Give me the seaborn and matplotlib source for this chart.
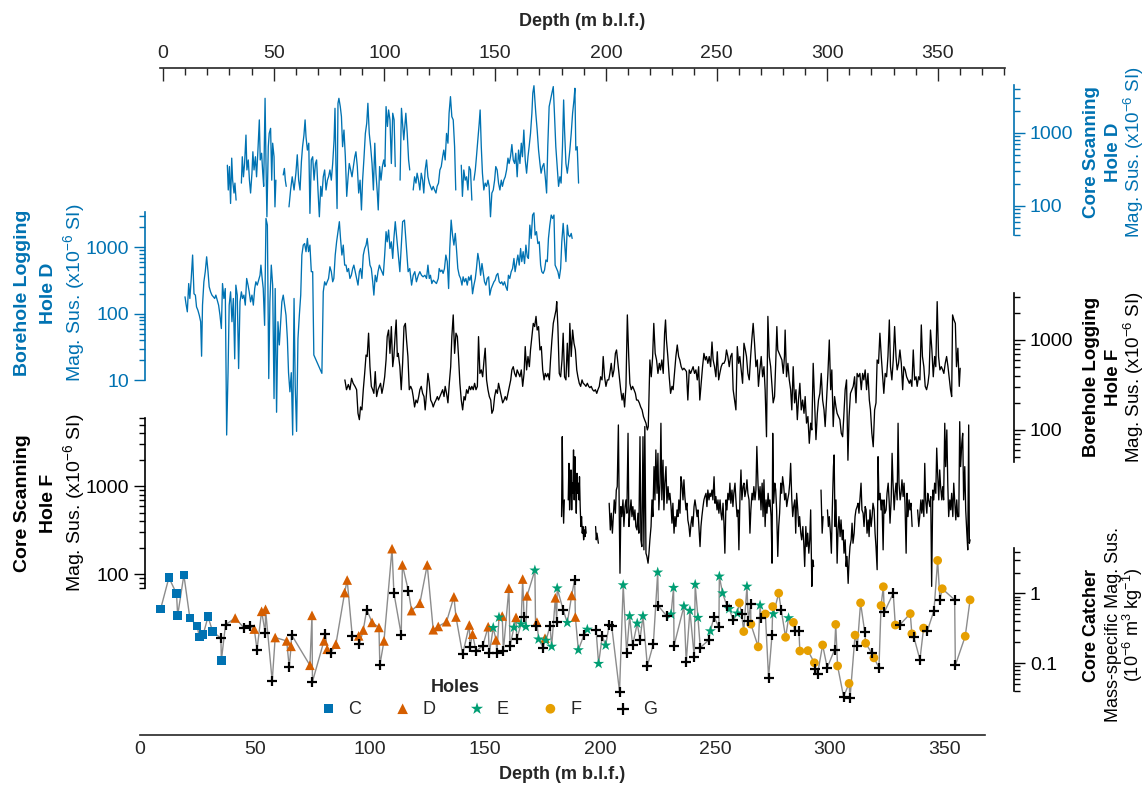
"""
Magnetic susceptibility versus depth: core scanning, borehole logging and
core catcher measurements stacked on shared depth axes.
"""

import matplotlib

matplotlib.use("Agg")
import matplotlib.pyplot as plt
import numpy as np
import pandas as pd
import seaborn as sns
from matplotlib.ticker import FixedLocator, FuncFormatter, MultipleLocator, NullFormatter

sns.set_style("white")
plt.rcParams["font.family"] = ["Liberation Sans", "DejaVu Sans"]
plt.rcParams["mathtext.fontset"] = "custom"
plt.rcParams["mathtext.rm"] = "Liberation Sans"
plt.rcParams["mathtext.it"] = "Liberation Sans:italic"
plt.rcParams["mathtext.bf"] = "Liberation Sans:bold"

BLUE = "#0072B2"

# ---------------------------------------------------------------- data
# Core scanning, hole D (one inner list per core section)
CSD_DEPTH = [
    [38.0, 38.4, 38.9, 39.4, 39.9, 40.3, 40.9, 41.3, 41.8],
    [44.1, 44.5, 45.0, 45.5, 46.1, 46.5, 47.1, 47.6, 48.1, 48.7,
     49.1, 49.6, 50.2, 50.7, 51.3, 51.9, 52.3, 52.9, 53.4, 53.8,
     54.4, 54.8, 55.2, 55.8, 56.2, 56.8, 57.3, 57.7, 58.3, 58.7, 59.1],
    [62.3, 62.8, 63.2, 63.6],
    [64.8, 65.5, 66.2, 67.0, 67.8, 68.4, 69.0, 69.6, 70.2, 70.7,
     71.3, 71.8, 72.2, 72.8, 73.4, 73.9, 74.5, 75.1, 75.7, 76.3,
     76.8, 77.4, 78.0, 78.6, 79.1, 79.7, 80.3, 80.9, 81.5, 82.0,
     82.6, 83.2, 83.8, 84.4, 84.8, 85.2, 85.7, 86.1, 86.5, 87.1,
     87.6, 88.1, 88.7, 89.3, 89.9, 90.5, 91.0, 91.6, 92.2, 92.8,
     93.4, 93.9, 94.5, 95.1, 95.7, 96.3, 96.8, 97.4, 98.0, 98.6,
     99.1, 99.7, 100.3, 100.9, 101.5, 102.1, 102.6, 103.2, 103.6, 104.2,
     104.8, 105.4, 106.0, 106.5, 107.0, 107.6, 108.1, 108.7, 109.3, 109.9,
     110.5, 111.0],
    [113.1, 113.5, 113.7, 114.7, 115.6, 116.2, 116.8, 117.3],
    [118.8, 119.4, 120.0, 120.5, 121.1, 121.7, 122.3, 122.9, 123.4, 124.0,
     124.6, 125.2, 125.8, 126.3, 126.9, 127.5, 128.1, 128.7, 129.2, 129.8,
     130.4, 131.0, 131.6, 132.1, 132.7, 133.3, 133.9, 134.4, 135.0, 135.6,
     136.2, 136.8, 137.3],
    [139.7, 140.2, 140.8, 141.4, 142.0, 142.6, 143.1, 143.7, 144.3],
    [145.2, 145.8, 146.3, 146.9, 147.5, 147.9, 148.4, 148.9, 149.5, 150.1,
     150.7, 151.3, 151.8, 152.4, 153.0, 153.6, 154.2, 154.7, 155.3, 155.9,
     156.5, 157.1, 157.6, 158.2, 158.8, 159.4, 160.0, 160.5, 161.1, 161.7,
     162.3, 162.9, 163.4, 164.0, 164.6, 165.2, 165.8, 166.3, 166.9, 167.5,
     168.1, 168.7, 169.2, 169.8, 170.4, 170.8, 171.3, 171.7, 172.1, 172.7,
     173.3, 173.9, 174.4, 175.0, 175.6, 176.2, 176.8, 177.3, 177.9, 178.5,
     179.1, 179.7, 180.2, 180.8, 181.4, 182.0, 182.6, 183.1, 183.7, 184.2,
     184.6, 185.2, 185.8, 186.3, 186.9, 187.5, 188.1, 188.7, 189.1, 189.5,
     190.1, 190.7],
]
CSD_MAGSUS = [
    [360, 165, 345, 108, 450, 225, 150, 205, 120],
    [205, 470, 250, 380, 930, 310, 425, 225, 150, 280,
     550, 310, 470, 250, 580, 1500, 425, 525, 280, 185,
     2960, 380, 71, 645, 980, 1150, 225, 720, 470, 97, 225],
    [265, 325, 225, 185],
    [97, 165, 250, 165, 280, 500, 225, 165, 405, 645,
     930, 1500, 880, 580, 720, 79, 425, 470, 225, 380,
     425, 165, 71, 185, 135, 250, 310, 165, 225, 250,
     310, 225, 380, 800, 2160, 380, 92, 2530, 2960, 2280,
     1660, 645, 1090, 470, 135, 250, 380, 310, 250, 345,
     470, 550, 345, 150, 225, 88, 225, 450, 980, 1350,
     2530, 980, 645, 380, 165, 720, 280, 150, 88, 345,
     225, 345, 425, 345, 2280, 1220, 2050, 1500, 380, 1850,
     1500, 345],
    [225, 1090, 2160, 800, 1850, 980, 425, 310],
    [165, 250, 205, 280, 225, 165, 280, 225, 150, 310,
     425, 250, 205, 185, 165, 185, 165, 150, 185, 205,
     310, 345, 470, 580, 425, 980, 720, 1850, 3120, 1660,
     1500, 645, 165],
    [360, 135, 310, 225, 250, 165, 345, 310, 120],
    [225, 310, 470, 800, 1350, 2050, 645, 280, 165, 205,
     185, 225, 185, 71, 150, 165, 225, 345, 310, 205,
     165, 225, 185, 225, 250, 310, 450, 380, 470, 690,
     425, 380, 525, 250, 580, 380, 720, 470, 1090, 425,
     280, 470, 645, 980, 1850, 3490, 4400, 2810, 1850, 1090,
     580, 380, 280, 345, 380, 250, 150, 645, 2280, 2810,
     3490, 4280, 1850, 645, 345, 185, 250, 205, 645, 2810,
     1090, 380, 280, 380, 580, 980, 1850, 2810, 4060, 580,
     645, 205],
]

# Borehole logging, hole D
BLD_DEPTH = [
    19.6, 20.0, 20.6, 21.2, 21.7, 22.3, 22.9, 23.5, 24.1, 24.6,
    25.2, 25.8, 26.4, 26.8, 27.2, 27.8, 28.4, 29.0, 29.6, 30.1,
    30.7, 31.3, 31.9, 32.5, 33.0, 33.6, 34.2, 34.8, 35.4, 35.9,
    36.5, 37.1, 37.7, 38.3, 38.8, 39.4, 40.0, 40.6, 41.2, 41.7,
    42.3, 42.9, 43.5, 44.1, 44.6, 45.2, 45.8, 46.4, 47.0, 47.5,
    48.1, 48.7, 49.3, 49.9, 50.4, 51.0, 51.6, 52.2, 52.6, 53.0,
    53.6, 54.2, 54.8, 55.4, 56.0, 56.5, 57.1, 57.7, 58.3, 58.8,
    59.4, 60.0, 60.6, 61.2, 61.7, 62.3, 62.9, 63.5, 64.1, 64.6,
    65.2, 65.8, 66.4, 67.0, 67.5, 68.1, 68.7, 69.3, 69.9, 70.4,
    71.0, 71.6, 72.2, 72.8, 73.3, 73.9, 74.5, 75.1, 75.6, 79.1,
    79.7, 80.3, 80.9, 81.4, 82.0, 82.6, 83.2, 83.8, 84.3, 84.9,
    85.5, 86.1, 86.7, 87.2, 87.8, 88.4, 89.0, 89.6, 90.1, 90.7,
    91.3, 91.9, 92.5, 93.0, 93.6, 94.2, 94.8, 95.4, 95.9, 96.5,
    97.1, 97.7, 98.3, 98.8, 99.4, 100.0, 100.6, 101.2, 101.7, 102.3,
    102.9, 103.5, 104.1, 104.6, 105.2, 105.8, 106.4, 107.0, 107.5, 108.1,
    108.7, 109.3, 109.9, 110.4, 111.0, 113.0, 114.2, 115.0, 115.9, 116.6,
    117.3, 118.1, 118.8, 119.5, 120.2, 121.0, 121.7, 122.4, 123.1, 123.9,
    124.6, 125.2, 125.8, 126.3, 126.9, 127.5, 128.2, 128.9, 129.7, 130.1,
    130.7, 131.3, 131.8, 132.4, 133.0, 133.6, 134.2, 134.7, 135.3, 135.9,
    136.5, 137.1, 137.6, 138.2, 138.8, 139.4, 140.0, 140.5, 141.1, 141.7,
    142.3, 142.9, 143.4, 144.0, 144.6, 145.2, 145.8, 146.3, 146.9, 147.5,
    148.1, 148.7, 149.2, 149.8, 150.4, 151.0, 151.6, 152.1, 152.7, 153.3,
    153.9, 154.4, 155.0, 155.6, 156.2, 156.8, 157.3, 157.9, 158.5, 159.1,
    159.7, 160.2, 160.8, 161.4, 162.0, 162.6, 163.1, 163.7, 164.3, 164.9,
    165.5, 166.0, 166.6, 167.2, 167.8, 168.4, 168.9, 169.5, 170.1, 170.7,
    171.3, 171.8, 172.4, 173.0, 173.6, 174.2, 174.7, 175.3, 175.9, 176.5,
    177.1, 177.6, 178.2, 178.8, 179.4, 180.0, 180.5, 181.1, 181.7, 182.3,
    182.9, 183.4, 184.0, 184.6, 185.2, 185.8, 186.3, 186.9, 187.5, 187.9,
]
BLD_MAGSUS = [
    180, 143, 107, 285, 170, 340, 765, 200, 191, 127,
    113, 95, 76, 23, 135, 303, 430, 720, 430, 255,
    214, 191, 180, 170, 191, 160, 135, 95, 60, 285,
    170, 240, 1.5, 13, 135, 214, 76, 170, 21, 270,
    191, 15, 151, 214, 170, 191, 135, 340, 270, 214,
    151, 191, 135, 240, 303, 270, 320, 380, 540, 380,
    240, 67, 2720, 2160, 10.6, 151, 540, 270, 5.3, 240,
    3.3, 76, 34, 76, 151, 191, 135, 95, 42, 13,
    6.7, 13, 1.5, 170, 8.4, 1.7, 42, 95, 191, 765,
    1080, 1140, 860, 1360, 860, 1080, 430, 430, 24, 12.7,
    214, 303, 270, 303, 340, 510, 430, 303, 340, 765,
    1210, 1720, 2430, 1360, 765, 1080, 540, 540, 430, 480,
    340, 380, 480, 540, 430, 340, 270, 430, 480, 340,
    765, 960, 1080, 1360, 860, 540, 480, 303, 191, 380,
    303, 430, 540, 480, 430, 380, 765, 1720, 1210, 1820,
    960, 1210, 680, 1360, 2430, 430, 2430, 2570, 960, 430,
    480, 270, 380, 430, 303, 380, 430, 380, 360, 380,
    340, 540, 340, 380, 285, 320, 303, 285, 340, 480,
    430, 455, 405, 480, 765, 610, 240, 960, 2570, 1530,
    1080, 1620, 960, 480, 380, 340, 270, 360, 303, 340,
    270, 360, 320, 380, 200, 270, 340, 480, 810, 610,
    380, 570, 430, 303, 270, 340, 360, 191, 240, 270,
    303, 320, 380, 405, 303, 285, 303, 270, 303, 255,
    225, 380, 340, 430, 480, 680, 430, 570, 765, 540,
    960, 610, 860, 570, 1080, 720, 680, 2160, 1360, 3060,
    3300, 1530, 1720, 1140, 1210, 540, 430, 405, 455, 645,
    610, 1360, 2160, 3060, 2720, 3060, 540, 480, 430, 340,
    480, 1210, 2290, 1210, 610, 2160, 1530, 1440, 1620, 1360,
]

# Borehole logging, hole F
BLF_DEPTH = [
    89.1, 89.8, 90.6, 91.3, 92.0, 92.7, 93.5, 94.2, 94.8, 95.4,
    95.9, 96.5, 97.1, 97.7, 98.3, 98.8, 99.4, 100.0, 100.6, 101.2,
    101.7, 102.3, 102.9, 103.5, 104.1, 104.6, 105.2, 105.8, 106.4, 107.0,
    107.5, 108.1, 108.7, 109.3, 109.9, 110.4, 111.0, 111.4, 111.9, 112.3,
    113.0, 113.6, 114.2, 114.8, 115.4, 115.9, 116.5, 117.1, 117.7, 118.3,
    118.8, 119.4, 120.0, 120.6, 121.2, 121.7, 122.3, 122.9, 123.5, 124.0,
    124.6, 125.2, 125.8, 126.4, 127.0, 127.5, 128.1, 128.7, 129.3, 129.8,
    130.4, 131.0, 131.6, 132.2, 132.7, 133.3, 133.9, 134.5, 135.1, 135.6,
    136.2, 136.8, 137.4, 138.0, 138.5, 139.1, 139.7, 140.3, 140.9, 141.4,
    142.0, 142.6, 143.2, 143.8, 144.3, 144.9, 145.5, 146.1, 146.7, 147.2,
    147.8, 148.4, 149.0, 149.6, 150.1, 150.7, 151.3, 151.9, 152.5, 153.0,
    153.6, 154.2, 154.8, 155.4, 155.9, 156.5, 157.1, 157.7, 158.3, 158.8,
    159.4, 160.0, 160.6, 161.2, 161.7, 162.3, 162.9, 163.5, 164.0, 164.6,
    165.2, 165.8, 166.4, 167.0, 167.5, 168.1, 168.7, 169.3, 169.8, 170.4,
    171.0, 171.6, 172.2, 172.7, 173.3, 173.9, 174.5, 175.1, 175.7, 176.2,
    176.8, 177.4, 178.0, 178.5, 179.1, 179.7, 180.3, 180.9, 181.2, 181.7,
    182.3, 182.9, 183.5, 184.0, 184.6, 185.2, 185.8, 186.4, 186.9, 187.5,
    188.1, 188.7, 189.3, 189.9, 190.4, 191.0, 191.6, 192.2, 192.7, 193.3,
    193.9, 194.5, 195.1, 195.6, 196.2, 196.8, 197.4, 198.0, 198.6, 199.1,
    199.7, 200.3, 200.9, 201.4, 202.0, 202.6, 203.2, 203.8, 204.3, 204.9,
    205.5, 206.1, 206.7, 207.2, 207.8, 208.4, 209.0, 209.6, 210.1, 210.7,
    211.3, 211.9, 212.5, 213.0, 213.6, 214.2, 214.8, 215.4, 215.9, 216.5,
    217.1, 217.7, 218.3, 218.9, 219.4, 220.0, 220.6, 221.0, 221.7, 222.3,
    222.9, 223.4, 224.0, 224.6, 225.2, 225.8, 226.3, 226.9, 227.5, 228.1,
    228.5, 228.9, 229.5, 230.1, 230.7, 231.3, 231.8, 232.4, 233.0, 233.6,
    234.2, 234.7, 235.3, 235.9, 236.5, 237.1, 237.6, 238.2, 238.8, 239.4,
    240.0, 240.5, 241.1, 241.7, 242.3, 242.9, 243.4, 244.0, 244.6, 245.2,
    245.8, 246.3, 246.9, 247.5, 248.1, 248.7, 249.2, 249.8, 250.4, 251.0,
    251.6, 252.1, 252.7, 253.3, 253.9, 254.5, 255.0, 255.6, 256.2, 256.8,
    257.4, 257.9, 258.5, 259.1, 259.7, 260.3, 260.8, 261.4, 262.0, 262.6,
    263.2, 263.7, 264.3, 264.9, 265.5, 266.0, 266.6, 267.2, 267.8, 268.4,
    268.9, 269.5, 270.1, 270.7, 271.3, 271.8, 272.4, 273.0, 273.6, 274.2,
    274.7, 275.3, 275.9, 276.5, 276.9, 277.3, 277.9, 278.5, 279.1, 279.7,
    280.2, 280.5, 281.1, 281.7, 282.3, 282.9, 283.4, 284.0, 284.6, 285.2,
    285.8, 286.3, 286.9, 287.5, 288.1, 288.7, 289.2, 289.8, 290.4, 291.0,
    291.6, 292.1, 292.7, 293.3, 293.9, 294.5, 295.0, 295.6, 296.2, 296.8,
    297.4, 297.9, 298.5, 299.1, 299.7, 300.3, 300.8, 301.4, 302.0, 302.6,
    303.1, 303.7, 304.3, 304.9, 305.5, 306.0, 306.6, 307.2, 307.8, 308.3,
    308.9, 309.5, 310.1, 310.7, 311.3, 311.8, 312.4, 313.0, 313.6, 314.2,
    314.7, 315.3, 315.9, 316.5, 317.1, 317.6, 318.2, 318.8, 319.4, 320.0,
    320.5, 321.1, 321.7, 322.3, 322.9, 323.4, 324.0, 324.6, 325.2, 325.8,
    326.3, 326.9, 327.5, 328.1, 328.7, 329.2, 329.8, 330.4, 331.0, 331.6,
    332.1, 332.7, 333.3, 333.9, 334.5, 335.0, 335.6, 336.2, 336.8, 337.4,
    337.9, 338.5, 339.1, 339.7, 340.2, 340.8, 341.4, 342.0, 342.6, 343.1,
    343.7, 344.3, 344.9, 345.5, 346.0, 346.6, 347.2, 347.8, 348.4, 349.0,
    349.5, 350.1, 350.7, 351.3, 351.8, 352.4, 352.9, 353.3, 353.9, 354.5,
    355.0, 355.6, 356.2, 356.6,
]
BLF_MAGSUS = [
    360, 280, 320, 280, 375, 330, 305, 280, 153, 130,
    180, 167, 280, 425, 680, 655, 1190, 505, 305, 280,
    255, 445, 235, 280, 305, 330, 255, 305, 390, 600,
    1090, 1290, 710, 1410, 505, 655, 1190, 1670, 655, 710,
    505, 280, 550, 1410, 1530, 1000, 655, 280, 305, 280,
    235, 180, 215, 200, 235, 280, 305, 255, 235, 167,
    255, 425, 330, 215, 200, 180, 200, 215, 235, 215,
    235, 255, 280, 235, 305, 255, 200, 330, 505, 1090,
    1900, 710, 1190, 1090, 655, 330, 215, 167, 235, 215,
    280, 255, 305, 280, 305, 280, 330, 280, 305, 1090,
    425, 465, 390, 600, 810, 360, 280, 235, 215, 153,
    167, 235, 280, 255, 330, 280, 235, 200, 215, 235,
    215, 255, 305, 360, 465, 505, 425, 390, 465, 425,
    390, 465, 305, 425, 845, 465, 655, 505, 775, 1090,
    1530, 1410, 1830, 1290, 1410, 775, 845, 465, 360, 425,
    390, 425, 360, 600, 1000, 1530, 1830, 2160, 2670, 1410,
    425, 390, 600, 1190, 390, 360, 920, 390, 1530, 655,
    1290, 920, 775, 465, 390, 330, 305, 360, 330, 320,
    305, 330, 305, 295, 305, 280, 270, 280, 255, 280,
    305, 390, 360, 655, 390, 305, 360, 360, 425, 550,
    390, 465, 710, 775, 550, 390, 280, 215, 255, 180,
    305, 1900, 655, 330, 280, 305, 280, 255, 215, 215,
    200, 180, 167, 141, 130, 119, 100, 109, 600, 390,
    655, 1530, 710, 600, 425, 550, 465, 600, 425, 1190,
    1670, 1000, 655, 390, 255, 305, 280, 425, 655, 880,
    655, 600, 505, 465, 485, 465, 445, 215, 465, 425,
    465, 505, 425, 465, 360, 505, 215, 330, 505, 710,
    600, 655, 550, 655, 505, 950, 600, 505, 390, 740,
    360, 425, 505, 550, 550, 600, 775, 655, 505, 655,
    710, 280, 215, 167, 845, 550, 655, 465, 330, 920,
    775, 655, 425, 360, 655, 1000, 1530, 920, 505, 600,
    305, 465, 655, 390, 505, 280, 84, 1830, 655, 505,
    330, 200, 235, 655, 1410, 775, 710, 655, 600, 425,
    655, 1290, 390, 550, 360, 280, 167, 505, 200, 280,
    130, 215, 330, 167, 215, 153, 235, 119, 141, 71,
    119, 100, 550, 200, 78, 153, 215, 255, 425, 215,
    167, 109, 215, 425, 1000, 280, 465, 109, 235, 180,
    153, 141, 130, 92, 84, 141, 280, 360, 46, 141,
    255, 280, 305, 390, 200, 425, 390, 425, 280, 425,
    360, 465, 280, 425, 215, 167, 92, 65, 167, 200,
    600, 550, 1190, 655, 390, 255, 425, 390, 655, 1670,
    505, 360, 600, 1410, 655, 465, 550, 775, 550, 280,
    505, 465, 390, 360, 330, 360, 305, 775, 360, 390,
    305, 390, 360, 1470, 655, 505, 305, 280, 330, 425,
    1290, 775, 390, 655, 505, 2670, 655, 465, 505, 465,
    425, 550, 655, 505, 390, 280, 235, 1900, 1670, 1530,
    505, 810, 305, 485,
]

# Core scanning, hole F (one inner list per core section)
CSF_DEPTH = [
    [183.3, 183.6, 183.9, 184.2, 184.5],
    [186.2, 186.5, 186.8, 187.1, 187.4, 187.7, 188.0, 188.2, 188.5, 188.8,
     189.1, 189.4, 189.7, 190.0, 190.3, 190.6, 190.9, 191.1, 191.4, 191.7,
     192.0, 192.3, 192.6, 192.9, 193.2, 193.5, 193.7, 194.0],
    [198.1, 198.4, 198.7, 199.3],
    [204.0, 204.5, 204.9, 205.4, 205.8, 206.2, 206.7, 207.1, 207.5, 208.0,
     208.4, 208.7, 209.1, 209.5, 210.0, 210.4, 210.9, 211.3, 211.7, 212.2,
     212.6, 213.0, 213.5, 213.9, 214.3, 214.8, 215.2, 215.6, 216.1, 216.5,
     216.9, 217.4, 217.8, 218.2, 218.7, 219.1, 219.5, 220.0, 220.4, 220.9,
     221.3, 221.7, 222.2, 222.6, 223.0, 223.5, 223.9, 224.3, 224.8, 225.2,
     225.6, 226.1, 226.5, 226.9, 227.4, 227.8, 228.2, 228.7, 229.1, 229.6,
     230.0, 230.4, 230.9, 231.3, 231.7, 232.2, 232.6, 233.0, 233.5, 233.9,
     234.3, 234.8, 235.2, 235.6, 236.1, 236.5, 236.9, 237.4, 237.8, 238.2,
     238.7, 239.1, 239.6, 240.0, 240.4, 240.9, 241.3, 241.7, 242.2, 242.6,
     243.0, 243.5, 243.9, 244.3, 244.8, 245.2, 245.6, 246.1, 246.5, 246.9,
     247.4, 247.8, 248.2, 248.7, 249.1, 249.6, 250.0, 250.4, 250.9, 251.3,
     251.7, 252.2, 252.6, 253.0, 253.5, 253.9, 254.3, 254.8, 255.2, 255.6,
     256.1, 256.5, 256.9, 257.4, 257.8, 258.2, 258.7, 259.1, 259.6, 260.0,
     260.4, 260.9, 261.3, 261.7, 262.2, 262.6, 263.0, 263.5, 263.9, 264.3,
     264.8, 265.2, 265.6, 266.1, 266.5, 266.9, 267.4, 267.8, 268.2, 268.7,
     269.1, 269.6, 270.0, 270.5, 270.9, 271.3, 271.8, 272.2, 272.6, 273.1,
     273.5, 273.9, 274.4, 274.8, 275.1, 275.5, 276.0, 276.4, 276.8, 277.3,
     277.7, 278.1, 278.6, 279.0, 279.4, 279.9, 280.3, 280.8, 281.2, 281.6,
     282.1, 282.5, 282.9, 283.4, 283.8, 284.2, 284.7, 285.1, 285.5, 286.0,
     286.4, 286.8, 287.3, 287.7, 288.2, 288.6, 289.0, 289.5, 289.9, 290.3,
     290.8, 291.2, 291.6, 292.1, 292.5, 292.9],
    [296.1, 296.6, 297.0],
    [298.9, 299.3, 299.7, 300.2, 300.6, 301.0, 301.5, 301.8, 302.2, 302.6,
     303.1, 303.5, 303.9, 304.4, 304.8, 305.3, 305.7, 306.1, 306.6, 307.0,
     307.4, 307.9, 308.3, 308.7, 309.2, 309.6, 310.0, 310.5, 310.9, 311.3,
     311.8, 312.2, 312.6, 313.1, 313.5, 313.9, 314.4, 314.8, 315.3, 315.7,
     316.1, 316.6, 317.0, 317.4, 317.9, 318.3, 318.7, 319.2, 319.6, 320.0,
     320.5, 320.9, 321.3, 321.8, 322.2, 322.6, 323.1, 323.5, 323.9, 324.4,
     324.8, 325.3, 325.7, 326.1, 326.6, 327.0, 327.4, 327.9, 328.3, 328.7,
     329.2, 329.6, 330.0, 330.5, 330.9, 331.3, 331.8, 332.2, 332.6, 333.1,
     333.5, 333.9, 334.4, 334.8, 335.2, 335.7],
    [338.1, 338.6, 339.0, 339.5, 339.9, 340.3, 340.8, 341.2, 341.6, 342.1,
     342.5, 342.9, 343.4, 343.8, 344.2, 344.7, 345.1, 345.5, 346.0, 346.4,
     346.8, 347.3, 347.7, 348.1, 348.6, 349.0, 349.4, 349.9, 350.3, 350.8,
     351.2, 351.6, 352.1, 352.5, 352.9, 353.4, 353.8, 354.2, 354.7, 355.1,
     355.5, 356.0, 356.4, 356.8, 357.3, 357.7, 358.1, 358.6, 359.0, 359.5,
     359.9, 360.3, 360.6, 360.9],
]
CSF_MAGSUS = [
    [454, 3680, 703, 382, 703],
    [703, 1830, 541, 995, 1540, 541, 1090, 835, 2600, 703,
     2180, 995, 496, 1410, 835, 1090, 703, 1290, 590, 350,
     454, 294, 350, 247, 320, 269, 350, 294],
    [350, 247, 294, 226],
    [644, 320, 496, 294, 454, 703, 496, 910, 995, 5000,
     454, 103, 590, 454, 703, 350, 590, 703, 496, 4020,
     350, 496, 703, 454, 590, 416, 541, 350, 320, 496,
     294, 3680, 247, 207, 3680, 190, 4800, 174, 160, 134,
     174, 247, 350, 703, 454, 1680, 703, 2600, 835, 2380,
     541, 1090, 5230, 703, 1990, 541, 1090, 1680, 644, 995,
     703, 835, 590, 382, 644, 294, 454, 350, 541, 454,
     703, 496, 1290, 1090, 703, 1190, 767, 541, 644, 416,
     350, 269, 382, 454, 350, 590, 703, 590, 454, 541,
     350, 207, 350, 454, 590, 703, 767, 835, 590, 910,
     703, 835, 767, 910, 703, 1290, 644, 767, 541, 703,
     496, 703, 496, 416, 644, 382, 174, 703, 541, 835,
     703, 1090, 644, 910, 590, 835, 1090, 703, 454, 541,
     190, 835, 1540, 703, 995, 1090, 767, 910, 1190, 835,
     703, 294, 541, 835, 703, 995, 703, 910, 2850, 1090,
     703, 995, 541, 1090, 454, 1190, 350, 703, 496, 835,
     590, 703, 454, 134, 4020, 644, 1090, 910, 541, 160,
     350, 496, 1090, 835, 1290, 995, 703, 835, 590, 703,
     835, 1090, 1830, 703, 454, 590, 703, 294, 835, 541,
     350, 454, 294, 247, 350, 226, 123, 350, 207, 294,
     174, 247, 541, 73, 146, 123],
    [910, 294, 454],
    [541, 350, 454, 294, 174, 541, 1680, 2280, 350, 703,
     134, 320, 454, 269, 416, 247, 320, 174, 247, 123,
     160, 79, 146, 207, 247, 382, 226, 294, 454, 541,
     590, 644, 496, 767, 1090, 541, 496, 350, 590, 541,
     294, 416, 269, 541, 350, 454, 644, 541, 294, 207,
     113, 2180, 703, 835, 541, 703, 190, 703, 496, 541,
     835, 1090, 703, 382, 703, 2380, 1090, 541, 835, 1090,
     703, 5230, 1090, 703, 835, 1190, 767, 1090, 644, 174,
     835, 454, 703, 541, 644, 350],
    [541, 350, 454, 703, 496, 703, 454, 1830, 703, 496,
     835, 703, 590, 767, 73, 910, 703, 1090, 835, 2730,
     1410, 703, 1540, 995, 703, 995, 703, 5230, 1680, 4390,
     1090, 454, 703, 541, 835, 454, 1090, 703, 416, 703,
     454, 454, 5450, 1680, 3100, 4020, 703, 1680, 541, 294,
     190, 5000, 226, 247],
]

# Core catcher samples (mass-specific susceptibility, by hole)
CC_DEPTH = [
    9.0, 12.6, 15.9, 16.4, 19.1, 21.7, 24.9, 25.8, 27.5, 29.6,
    31.6, 35.2, 35.4, 37.2, 41.4, 45.4, 47.8, 49.7, 50.9, 52.9,
    54.5, 54.6, 57.5, 58.8, 63.8, 64.9, 65.7, 65.9, 73.9, 74.8,
    75.0, 80.0, 80.6, 81.4, 83.0, 85.2, 89.0, 90.1, 92.3, 95.1,
    95.4, 97.1, 98.6, 100.9, 103.9, 104.3, 106.1, 109.6, 110.4, 113.6,
    114.1, 116.7, 118.1, 121.7, 124.9, 127.5, 129.7, 133.3, 136.5, 137.4,
    140.3, 143.2, 143.5, 144.6, 146.1, 149.0, 151.4, 151.9, 153.6, 154.8,
    155.2, 156.1, 157.5, 158.0, 160.4, 160.9, 162.6, 163.5, 163.8, 165.7,
    166.4, 167.0, 167.8, 168.3, 171.7, 172.0, 172.6, 173.3, 175.4, 176.1,
    176.5, 178.3, 179.0, 180.6, 181.2, 181.4, 184.0, 185.8, 187.7, 189.0,
    189.3, 190.6, 193.0, 194.5, 198.3, 199.4, 201.0, 202.5, 204.0, 205.1,
    208.5, 210.1, 211.6, 212.9, 214.2, 216.2, 217.4, 218.7, 220.6, 223.2,
    225.1, 225.4, 229.0, 230.9, 232.0, 232.2, 236.5, 237.5, 239.1, 241.0,
    241.4, 242.6, 243.6, 247.2, 248.0, 249.6, 251.7, 251.9, 253.3, 255.2,
    256.2, 258.0, 259.7, 260.6, 261.6, 262.5, 263.9, 264.5, 265.5, 265.6,
    268.8, 269.6, 270.1, 271.9, 273.3, 274.8, 275.1, 275.4, 277.7, 278.8,
    280.7, 282.0, 284.1, 284.6, 286.5, 286.9, 290.4, 293.2, 293.5, 294.6,
    296.8, 298.8, 302.0, 302.5, 303.3, 305.9, 308.3, 308.7, 310.9, 311.9,
    313.3, 315.1, 315.5, 318.1, 319.1, 321.3, 322.2, 323.2, 323.6, 327.5,
    328.4, 330.4, 334.9, 335.6, 336.5, 339.1, 340.7, 342.3, 345.2, 346.8,
    347.8, 348.8, 354.2, 354.5, 358.8, 360.9,
]
CC_MAGSUS = [
    0.60, 1.69, 0.99, 0.485, 1.84, 0.444, 0.34, 0.238, 0.257, 0.464,
    0.284, 0.228, 0.109, 0.356, 0.444, 0.315, 0.336, 0.308, 0.156, 0.554,
    0.269, 0.593, 0.055, 0.233, 0.208, 0.087, 0.174, 0.255, 0.093, 0.485,
    0.054, 0.208, 0.263, 0.158, 0.141, 0.187, 1.03, 1.56, 0.246, 0.246,
    0.187, 0.298, 0.586, 0.384, 0.325, 0.094, 0.208, 4.4, 1.02, 0.255,
    2.57, 1.10, 0.567, 0.724, 2.57, 0.301, 0.336, 0.393, 0.895, 0.459,
    0.134, 0.352, 0.171, 0.26, 0.149, 0.176, 0.333, 0.138, 0.322, 0.215,
    0.138, 0.454, 0.474, 0.149, 1.19, 0.176, 0.325, 0.454, 0.22, 0.363,
    1.61, 0.454, 0.333, 0.925, 2.15, 0.34, 0.388, 0.22, 0.165, 0.228,
    0.211, 0.34, 0.173, 0.866, 0.388, 1.19, 0.58, 0.38, 0.935, 1.58,
    0.459, 0.154, 0.252, 0.304, 0.301, 0.098, 0.243, 0.18, 0.356, 0.34,
    0.039, 1.32, 0.14, 0.474, 0.18, 0.372, 0.218, 0.474, 0.091, 0.187,
    2.01, 0.663, 0.474, 0.502, 1.21, 0.178, 0.655, 0.104, 0.567, 0.121,
    1.34, 0.449, 0.167, 0.213, 0.288, 0.464, 0.325, 1.76, 1.01, 0.663,
    0.60, 0.411, 0.519, 0.733, 0.507, 0.284, 1.26, 0.406, 0.708, 0.363,
    0.171, 0.677, 0.439, 0.507, 0.062, 0.255, 0.648, 0.507, 1.01, 0.58,
    0.235, 0.444, 0.384, 0.288, 0.288, 0.149, 0.151, 0.101, 0.083, 0.07,
    0.182, 0.086, 0.156, 0.359, 0.091, 0.033, 0.051, 0.031, 0.252, 0.178,
    0.733, 0.281, 0.193, 0.14, 0.119, 0.086, 0.67, 1.25, 0.536, 1.01,
    0.352, 0.356, 0.513, 0.263, 0.235, 0.112, 0.318, 0.288, 0.567, 2.98,
    0.819, 1.17, 0.81, 0.093, 0.243, 0.81,
]
CC_HOLE = list(
    "CCCCCCCCCC" "CGCGDGGDGD" "GDGDDGDGDD" "GDGDGDDDGD"
    "GDGDDGDDGG" "DGDDDDDDDD" "GDGDGGDGED" "GEDGDGEDGE"
    "DGEDEGDEGD" "EGEDGEGEDG" "DEGEGEGEGG" "GEGEGEGEGG"
    "EGGEEGEGEG" "EEGGEGGEEG" "EGEFGFEGGF" "FEGFGGFEFG"
    "FEFGGFFFGG" "FGGFFGFGFG" "FGFGFGFFGG" "FGFFGGFGGF"
    "GFGGFF"
)

HOLES = ["C", "D", "E", "F", "G"]
HOLE_COLORS = {"C": BLUE, "D": "#D55E00", "E": "#009E73", "F": "#E69F00", "G": "black"}
HOLE_MARKERS = {"C": "s", "D": "^", "E": "*", "F": "o", "G": "+"}

# ---------------------------------------------------------------- layout
W, H = 1148, 791
XLIM = (2.2, 380.0)  # depth range covered by the stacked panels

fig = plt.figure(figsize=(W / 100, H / 100), dpi=100)


def box(x0, y0, x1, y1):
    """Pixel box (top-left origin) to figure fraction rect."""
    return [x0 / W, 1 - y1 / H, (x1 - x0) / W, (y1 - y0) / H]


def log_ticks(lo, hi):
    majors, minors = [], []
    for k in range(int(np.floor(np.log10(lo))) - 1, int(np.ceil(np.log10(hi))) + 1):
        for m in range(1, 10):
            v = m * 10.0**k
            if lo * 0.999 <= v <= hi * 1.001:
                (majors if m == 1 else minors).append(v)
    return majors, minors


def new_panel(rect):
    ax = fig.add_axes(rect)
    ax.set_facecolor("none")
    ax.set_yscale("log")
    for sp in ax.spines.values():
        sp.set_visible(False)
    return ax


def finish_panel(ax, ylim, side, color, bounds=None):
    ax.set_xlim(*XLIM)
    ax.set_yscale("log")
    ax.set_ylim(*ylim)
    lo, hi = bounds or ylim
    sp = ax.spines[side]
    sp.set_visible(True)
    sp.set_color(color)
    sp.set_linewidth(1.2)
    sp.set_bounds(lo, hi)
    majors, minors = log_ticks(lo, hi)
    ax.yaxis.set_major_locator(FixedLocator(majors))
    ax.yaxis.set_minor_locator(FixedLocator(minors))
    ax.yaxis.set_major_formatter(FuncFormatter(lambda v, p: f"{v:g}"))
    ax.yaxis.set_minor_formatter(NullFormatter())
    ax.yaxis.set_ticks_position(side)
    ax.tick_params(axis="y", which="both", colors=color, labelsize=14, direction="out", width=1)
    ax.tick_params(axis="y", which="major", length=8)
    ax.tick_params(axis="y", which="minor", length=4)
    ax.set_xlabel("")
    ax.set_ylabel("")
    ax.set_xticks([])


def trace(ax, depth, value, color):
    if isinstance(depth[0], list):
        seg = [i for i, d in enumerate(depth) for _ in d]
        depth = [x for d in depth for x in d]
        value = [x for v in value for x in v]
    else:
        seg = [0] * len(depth)
    df = pd.DataFrame({"depth": depth, "value": value, "seg": seg})
    sns.lineplot(data=df, x="depth", y="value", units="seg", estimator=None, sort=False,
                 color=color, lw=0.95, ax=ax, legend=False)


# Core scanning hole D (right axis, blue)
ax_csd = new_panel(box(145, 85, 1014, 235))
trace(ax_csd, CSD_DEPTH, CSD_MAGSUS, BLUE)
finish_panel(ax_csd, (40, 4500), "right", BLUE)

# Borehole logging hole D (left axis, blue) - dips run below the spine
ax_bld = new_panel(box(145, 212, 1014, 437))
trace(ax_bld, BLD_DEPTH, BLD_MAGSUS, BLUE)
finish_panel(ax_bld, (1.4, 3400), "left", BLUE, bounds=(10, 3400))

# Borehole logging hole F (right axis, black)
ax_blf = new_panel(box(145, 293, 1014, 462))
trace(ax_blf, BLF_DEPTH, BLF_MAGSUS, "black")
finish_panel(ax_blf, (44, 3330), "right", "black")

# Core scanning hole F (left axis, black)
ax_csf = new_panel(box(145, 418, 1014, 588))
trace(ax_csf, CSF_DEPTH, CSF_MAGSUS, "black")
finish_panel(ax_csf, (70, 6000), "left", "black")

# Core catcher (right axis, coloured by hole)
ax_cc = new_panel(box(145, 548, 1014, 705))
cc = pd.DataFrame({"depth": CC_DEPTH, "value": CC_MAGSUS, "hole": CC_HOLE})
sns.lineplot(data=cc, x="depth", y="value", estimator=None, sort=False,
             color="#8c8c8c", lw=1, ax=ax_cc, legend=False)
marker_size = {"C": 38, "D": 48, "E": 70, "F": 40, "G": 60}
for hole in HOLES:
    sub = cc[cc["hole"] == hole]
    kw = dict(linewidth=1.6) if hole == "G" else dict(edgecolor="none")
    sns.scatterplot(data=sub, x="depth", y="value", marker=HOLE_MARKERS[hole],
                    color=HOLE_COLORS[hole], s=marker_size[hole], label=hole,
                    ax=ax_cc, zorder=3, clip_on=False, **kw)
finish_panel(ax_cc, (0.025, 4.5), "right", "black", bounds=(0.04, 4.5))
ax_cc.legend(ncol=5, frameon=False, loc="center",
             bbox_to_anchor=(488 / W, 1 - 709 / H), bbox_transform=fig.transFigure,
             fontsize=13, columnspacing=1.8, handlelength=1.0, handletextpad=0.6,
             markerscale=1.1)
fig.text(455 / W, 1 - 688 / H, "Holes", ha="center", va="center", fontsize=13, fontweight="bold")

# Top depth axis
ax_top = fig.add_axes(box(160, 68, 1005, 120))
ax_top.set_facecolor("none")
for name, sp in ax_top.spines.items():
    sp.set_visible(name == "top")
ax_top.spines["top"].set_linewidth(1.2)
ax_top.set_xlim(-1.36, 380.3)
ax_top.set_yticks([])
ax_top.xaxis.tick_top()
ax_top.xaxis.set_label_position("top")
ax_top.xaxis.set_major_locator(MultipleLocator(50))
ax_top.xaxis.set_minor_locator(MultipleLocator(10))
ax_top.tick_params(axis="x", which="both", direction="in", labelsize=14, width=1, pad=4)
ax_top.tick_params(axis="x", which="major", length=9)
ax_top.tick_params(axis="x", which="minor", length=5)
ax_top.set_xlabel("Depth (m b.l.f.)", fontsize=13, fontweight="bold", labelpad=14)

# Bottom depth axis
ax_bot = fig.add_axes(box(140, 690, 985, 735))
ax_bot.set_facecolor("none")
for name, sp in ax_bot.spines.items():
    sp.set_visible(name == "bottom")
ax_bot.spines["bottom"].set_linewidth(1.2)
ax_bot.set_xlim(0, 367.4)
ax_bot.set_yticks([])
ax_bot.xaxis.set_major_locator(MultipleLocator(50))
ax_bot.xaxis.set_minor_locator(MultipleLocator(10))
ax_bot.tick_params(axis="x", which="both", direction="in", labelsize=14, width=1, pad=4)
ax_bot.tick_params(axis="x", which="major", length=9)
ax_bot.tick_params(axis="x", which="minor", length=5)
ax_bot.set_xlabel("Depth (m b.l.f.)", fontsize=13, fontweight="bold", labelpad=6)

# Panel titles
SUS = "Mag. Sus. (x10$^{-6}$ SI)"


def side_label(xs, yc, lines, color, size=14):
    for x, (text, weight) in zip(xs, lines):
        fig.text(x / W, 1 - yc / H, text, rotation=90, ha="center", va="center",
                 fontsize=size, fontweight=weight, color=color)


side_label([1092, 1113, 1134], 152, [("Core Scanning", "bold"), ("Hole D", "bold"), (SUS, "normal")],
           BLUE, size=13.5)
side_label([1092, 1113, 1134], 377, [("Borehole Logging", "bold"), ("Hole F", "bold"), (SUS, "normal")],
           "black", size=13.5)
side_label([1092, 1114, 1133], 625, [("Core Catcher", "bold"), ("Mass-specific Mag. Sus.", "normal"),
                                     ("(10$^{-6}$ m$^{3}$ kg$^{-1}$)", "normal")], "black", size=13)
side_label([23, 48, 74], 293, [("Borehole Logging", "bold"), ("Hole D", "bold"), (SUS, "normal")], BLUE)
side_label([23, 48, 74], 503, [("Core Scanning", "bold"), ("Hole F", "bold"), (SUS, "normal")], "black")

fig.savefig("out.png", dpi=100)
